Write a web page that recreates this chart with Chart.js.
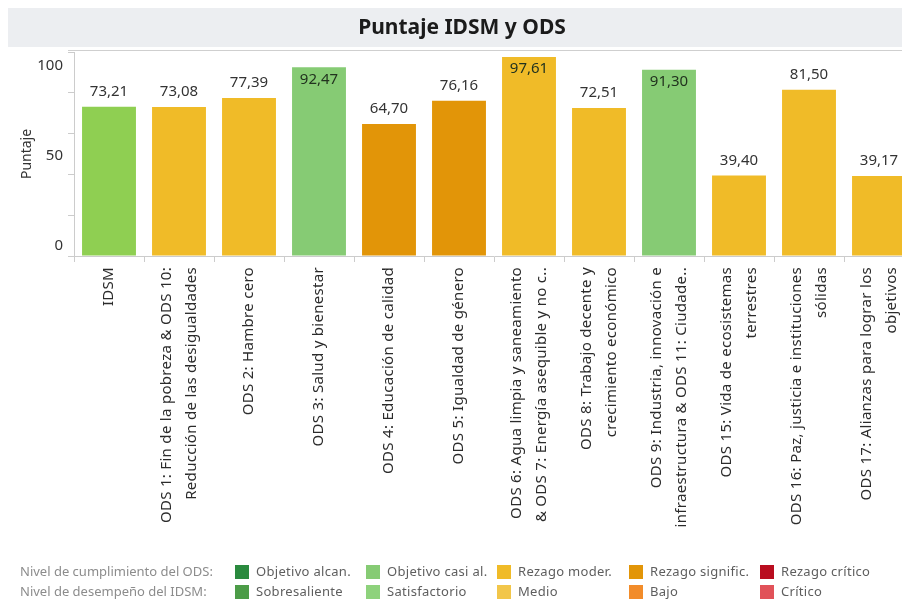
<!DOCTYPE html>
<html>
<head>
<meta charset="utf-8">
<script src="https://cdn.jsdelivr.net/npm/chart.js@4.4.1/dist/chart.umd.min.js"></script>
<style>
  html, body { margin: 0; padding: 0; background: #fff; overflow: hidden; }
  #wrap { position: relative; width: 916px; height: 600px; }
</style>
</head>
<body>
<div id="wrap"><canvas id="chart" width="916" height="600"></canvas></div>
<script>
// ─── Data ────────────────────────────────────────────────────────────────────
const TITLE = 'Puntaje IDSM y ODS';

const CATEGORIES = [
  ['IDSM'],
  ['ODS 1: Fin de la pobreza & ODS 10:', 'Reducción de las desigualdades'],
  ['ODS 2: Hambre cero'],
  ['ODS 3: Salud y bienestar'],
  ['ODS 4: Educación de calidad'],
  ['ODS 5: Igualdad de género'],
  ['ODS 6: Agua limpia y saneamiento', '& ODS 7: Energía asequible y no c..'],
  ['ODS 8: Trabajo decente y', 'crecimiento económico'],
  ['ODS 9: Industria, innovación e', 'infraestructura & ODS 11: Ciudade..'],
  ['ODS 15: Vida de ecosistemas', 'terrestres'],
  ['ODS 16: Paz, justicia e instituciones', 'sólidas'],
  ['ODS 17: Alianzas para lograr los', 'objetivos']
];

const VALUES = [73.21, 73.08, 77.39, 92.47, 64.70, 76.16, 97.61, 72.51, 91.30, 39.40, 81.50, 39.17];

const LEVELS = ['satisf', 'moder', 'moder', 'casi', 'signif', 'signif',
                'moder', 'moder', 'casi', 'moder', 'moder', 'moder'];

const Y_LABEL_TICKS = [0, 50, 100];

const LEGEND_HEADERS = ['Nivel de cumplimiento del ODS:', 'Nivel de desempeño del IDSM:'];
const LEGEND_ODS   = ['Objetivo alcan.', 'Objetivo casi al.', 'Rezago moder.', 'Rezago signific.', 'Rezago crítico'];
const LEGEND_IDSM  = ['Sobresaliente', 'Satisfactorio', 'Medio', 'Bajo', 'Crítico'];

// ─── Colours ─────────────────────────────────────────────────────────────────
const LEVEL_COLORS = {
  satisf: '#8fcf52',
  casi:   '#86cb74',
  moder:  '#f0bb28',
  signif: '#e29508'
};
const LEGEND_ODS_COLORS  = ['#2a8a3e', '#86cb74', '#f0bb28', '#e29508', '#b90d1f'];
const LEGEND_IDSM_COLORS = ['#4c9c48', '#8ed27c', '#f2c64a', '#f28c2a', '#e15259'];

const FONT = "'Noto Sans', sans-serif";
const fmt = v => v.toFixed(2).replace('.', ',');

// ─── Extra drawing: title band, value labels, x labels, legend ───────────────
const decorPlugin = {
  id: 'decor',
  beforeDraw(chart) {
    const { ctx, chartArea } = chart;
    ctx.save();
    ctx.fillStyle = '#eceef1';
    ctx.fillRect(8, 8, chart.width - 8, 39);
    ctx.fillStyle = '#1b1b1b';
    ctx.font = `bold 21px ${FONT}`;
    ctx.textAlign = 'center';
    ctx.textBaseline = 'middle';
    ctx.fillText(TITLE, 462, 28);
    // top border of plot
    ctx.strokeStyle = '#cfcfcf';
    ctx.lineWidth = 1;
    ctx.beginPath();
    ctx.moveTo(chartArea.left - 6, chartArea.top - 1.5);
    ctx.lineTo(chart.width, chartArea.top - 1.5);
    ctx.stroke();
    ctx.restore();
  },
  afterDatasetsDraw(chart) {
    const { ctx } = chart;
    const meta = chart.getDatasetMeta(0);
    ctx.save();
    ctx.font = `15px ${FONT}`;
    ctx.textAlign = 'center';
    ctx.textBaseline = 'middle';
    meta.data.forEach((bar, i) => {
      const v = VALUES[i];
      const inside = v > 90;
      ctx.fillStyle = inside ? '#22331f' : '#333';
      ctx.fillText(fmt(v), bar.x, inside ? bar.y + 12 : bar.y - 15);
    });
    ctx.restore();
  },
  afterDraw(chart) {
    const { ctx, chartArea } = chart;
    const xs = chart.scales.x;
    // rotated category labels
    ctx.save();
    ctx.font = `15px ${FONT}`;
    ctx.letterSpacing = '0.3px';
    ctx.fillStyle = '#2b2b2b';
    ctx.textAlign = 'right';
    ctx.textBaseline = 'middle';
    const lh = 25;
    CATEGORIES.forEach((lines, i) => {
      const cx = xs.getPixelForValue(i);
      lines.forEach((line, j) => {
        const off = (j - (lines.length - 1) / 2) * lh;
        ctx.save();
        ctx.translate(cx + off, chartArea.bottom + 11);
        ctx.rotate(-Math.PI / 2);
        ctx.fillText(line, 0, 0);
        ctx.restore();
      });
    });
    ctx.restore();

    // legend
    ctx.save();
    ctx.textBaseline = 'middle';
    ctx.textAlign = 'left';
    const rows = [
      { y: 572, labels: LEGEND_ODS,  colors: LEGEND_ODS_COLORS },
      { y: 592, labels: LEGEND_IDSM, colors: LEGEND_IDSM_COLORS }
    ];
    const colX = [235, 366, 497, 629, 760];
    rows.forEach((row, r) => {
      ctx.font = `13px ${FONT}`;
      ctx.letterSpacing = '0px';
      ctx.fillStyle = '#8c8c8c';
      ctx.fillText(LEGEND_HEADERS[r], 20, row.y);
      ctx.letterSpacing = '0.3px';
      row.labels.forEach((lab, k) => {
        ctx.fillStyle = row.colors[k];
        ctx.fillRect(colX[k], row.y - 7, 14, 14);
        ctx.fillStyle = '#5e5e5e';
        ctx.fillText(lab, colX[k] + 21, row.y);
      });
    });
    ctx.restore();
  }
};

new Chart(document.getElementById('chart'), {
  type: 'bar',
  data: {
    labels: CATEGORIES,
    datasets: [{
      data: VALUES,
      backgroundColor: LEVELS.map(l => LEVEL_COLORS[l]),
      borderWidth: 0,
      categoryPercentage: 1,
      barPercentage: 0.77
    }]
  },
  options: {
    responsive: false,
    animation: false,
    layout: { padding: { top: 52, right: 2, bottom: 338, left: 0 } },
    plugins: {
      legend: { display: false },
      tooltip: { enabled: false }
    },
    scales: {
      x: {
        offset: true,
        grid: { offset: true, drawOnChartArea: false, color: '#cccccc', tickLength: 6 },
        border: { color: '#cccccc' },
        ticks: { display: false }
      },
      y: {
        min: 0,
        max: 100,
        weight: 0,
        grid: { drawOnChartArea: false, color: '#cccccc', tickLength: 6 },
        border: { color: '#cccccc' },
        ticks: { display: false, stepSize: 20 }
      },
      yLabels: {
        type: 'linear',
        position: 'left',
        weight: 1,
        min: -5.5,
        max: 107.5,
        grid: { display: false, drawTicks: false },
        border: { display: false },
        afterBuildTicks(scale) { scale.ticks = Y_LABEL_TICKS.map(v => ({ value: v })); },
        afterFit(scale) { scale.width = 68; },
        ticks: { color: '#333', font: { family: FONT, size: 15 }, padding: 5 },
        title: {
          display: true,
          text: 'Puntaje',
          color: '#333',
          font: { family: FONT, size: 14 },
          padding: { top: 19, bottom: 0 }
        }
      }
    }
  },
  plugins: [decorPlugin]
});
</script>
</body>
</html>
